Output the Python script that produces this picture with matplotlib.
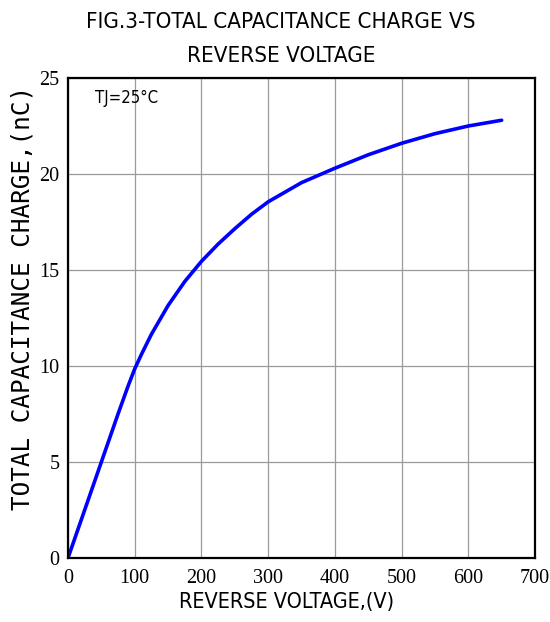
import matplotlib
matplotlib.use("Agg")
import matplotlib.pyplot as plt
from matplotlib import font_manager
from matplotlib.font_manager import FontProperties

# data
voltage = [0, 50, 75, 90, 100, 110, 125, 150, 175, 200, 225, 250, 275, 300, 350, 400, 450, 500, 550, 600, 650]
charge = [0, 5.0, 7.5, 8.95, 9.85, 10.6, 11.65, 13.15, 14.4, 15.45, 16.35, 17.15, 17.9, 18.55,
          19.55, 20.3, 21.0, 21.6, 22.1, 22.5, 22.8]

x_ticks = [0, 100, 200, 300, 400, 500, 600, 700]
y_ticks = [0, 5, 10, 15, 20, 25]

# look for a condensed sans face, the reference uses a narrow font
cond = None
for f in font_manager.fontManager.ttflist:
    if f.stretch in ('condensed', 'semi-condensed', 'extra-condensed') and f.style == 'normal' \
            and f.weight in (400, 'normal', 'regular') and 'Mono' not in f.name and 'Serif' not in f.name:
        cond = f.fname
        break


def narrow(size):
    if cond:
        return FontProperties(fname=cond, size=size)
    return FontProperties(family='Liberation Sans', size=size * 0.85)


fig = plt.figure(figsize=(5.5, 6.22), dpi=100)
ax = fig.add_axes([68 / 550, 64 / 622, 467 / 550, 480 / 622])

ax.plot(voltage, charge, color='#0000ff', lw=2.6, solid_capstyle='round')

ax.set_xlim(0, 700)
ax.set_ylim(0, 25)
ax.set_xticks(x_ticks)
ax.set_yticks(y_ticks)
ax.grid(True, color='#9a9a9a', lw=0.9)
ax.set_axisbelow(True)
ax.tick_params(axis='x', length=0, pad=8)
ax.tick_params(axis='y', length=0, pad=6)
for lab in ax.get_xticklabels() + ax.get_yticklabels():
    lab.set_fontfamily('Liberation Serif')
    lab.set_fontsize(14.5)
for sp in ax.spines.values():
    sp.set_linewidth(1.6)

ax.set_xlabel('REVERSE VOLTAGE,(V)', fontproperties=narrow(15.5))
ax.xaxis.set_label_coords(0.467, -0.071)
ax.set_ylabel('TOTAL CAPACITANCE CHARGE,(nC)', family='DejaVu Sans Mono', fontsize=17.5)
ax.yaxis.set_label_coords(-0.072, 0.542)
ax.text(0.058, 0.978, 'TJ=25°C', transform=ax.transAxes, fontproperties=narrow(12),
        va='top', ha='left')

fig.text(0.511, 0.98, 'FIG.3-TOTAL CAPACITANCE CHARGE VS\nREVERSE VOLTAGE',
         fontproperties=narrow(16), ha='center', va='top', linespacing=1.85)

fig.savefig('out.png', dpi=100)
